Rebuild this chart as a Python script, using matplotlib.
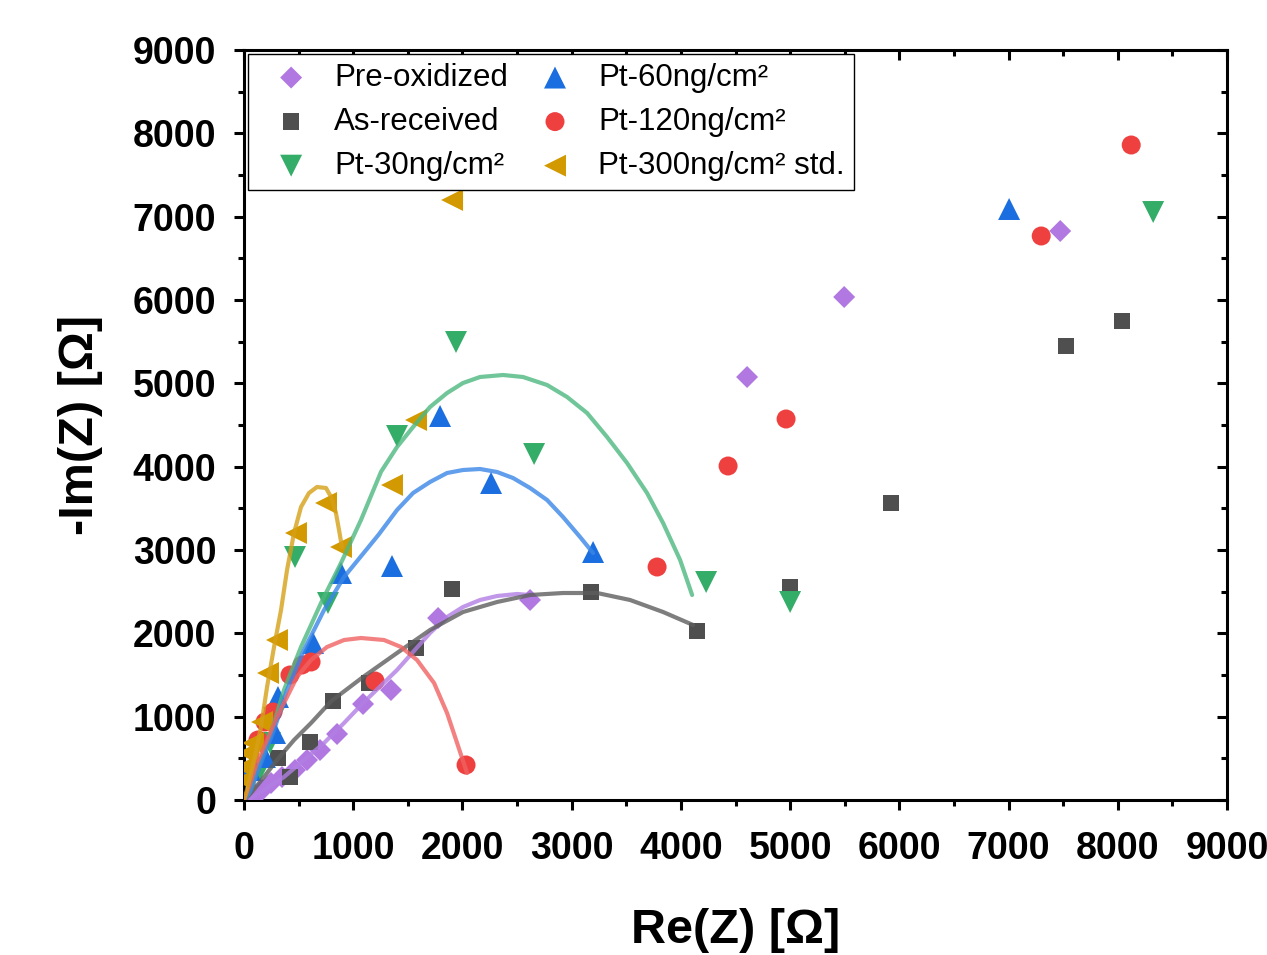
import matplotlib
matplotlib.use("Agg")
import matplotlib.pyplot as plt
from matplotlib import rc
from matplotlib.ticker import MultipleLocator, AutoMinorLocator

rc('font', **{'family': 'sans-serif', 'sans-serif': ['Liberation Sans', 'DejaVu Sans']})
rc('mathtext', **{'default': 'regular'})

# -- measured points (Re(Z), -Im(Z)) in ohm --
pre_x = [7473, 5495, 4606, 2619, 1777, 1346, 1090, 852, 696, 577, 467, 348, 247, 165, 100]
pre_y = [6828, 6036, 5076, 2400, 2184, 1320, 1152, 792, 600, 480, 360, 276, 204, 120, 60]

asr_x = [8040, 7527, 5925, 5000, 4148, 3178, 1905, 1575, 1145, 815, 604, 421, 311]
asr_y = [5748, 5448, 3564, 2556, 2028, 2496, 2532, 1824, 1404, 1188, 696, 276, 504]

pt30_x = [8324, 5000, 4231, 2656, 1941, 1401, 769, 467, 275, 238, 147]
pt30_y = [7056, 2376, 2616, 4152, 5496, 4368, 2364, 2916, 984, 684, 360]

pt60_x = [7005, 3196, 2262, 1795, 1355, 888, 632, 311, 284, 192, 55]
pt60_y = [7092, 2976, 3804, 4608, 2808, 2724, 1884, 1236, 804, 516, 360]

pt120_x = [8123, 7299, 4963, 4432, 3782, 2033, 1200, 614, 531, 421, 266, 192, 128]
pt120_y = [7860, 6768, 4572, 4008, 2796, 420, 1428, 1656, 1620, 1500, 1056, 936, 720]

pt300_x = [1905, 1575, 1355, 888, 751, 476, 302, 220, 165, 82, 37, 9, 5]
pt300_y = [7200, 4560, 3780, 3036, 3564, 3204, 1920, 1524, 936, 684, 564, 396, 240]

# -- fitted curves --
fit_pre_x = [0, 64, 183, 366, 549, 733, 916, 1090, 1401, 1703, 1859, 2005, 2161, 2317, 2500, 2619]
fit_pre_y = [0, 24, 120, 276, 480, 684, 924, 1164, 1560, 2004, 2196, 2316, 2400, 2448, 2472, 2460]

fit_asr_x = [0, 64, 183, 302, 458, 614, 800, 1090, 1401, 1703, 2005, 2317, 2619, 2921, 3233, 3535, 3837, 4112]
fit_asr_y = [0, 84, 276, 480, 720, 924, 1188, 1476, 1764, 2040, 2256, 2376, 2460, 2484, 2484, 2400, 2256, 2100]

fit_pt30_x = [0, 46, 119, 247, 366, 522, 705, 888, 1071, 1255, 1401, 1548, 1703, 1859, 2005, 2161,
              2372, 2555, 2775, 2958, 3141, 3324, 3507, 3690, 3837, 3993, 4103]
fit_pt30_y = [0, 84, 360, 804, 1320, 1836, 2364, 2844, 3360, 3940, 4236, 4476, 4716, 4884, 5004, 5076,
              5100, 5076, 4980, 4836, 4644, 4356, 4044, 3684, 3324, 2880, 2460]

fit_pt60_x = [0, 64, 156, 275, 394, 549, 733, 916, 1230, 1401, 1548, 1703, 1859, 2005, 2161, 2317,
              2463, 2619, 2775, 2921, 3077, 3196]
fit_pt60_y = [0, 120, 444, 840, 1320, 1800, 2280, 2676, 3180, 3480, 3684, 3816, 3924, 3960, 3972, 3936,
              3864, 3744, 3600, 3396, 3156, 2964]

fit_pt120_x = [0, 46, 119, 211, 302, 394, 485, 614, 760, 916, 1071, 1282, 1438, 1584, 1740, 1859, 1951, 2042]
fit_pt120_y = [0, 156, 444, 720, 996, 1236, 1476, 1680, 1836, 1920, 1944, 1920, 1836, 1680, 1404, 1044, 684, 324]

fit_pt300_x = [0, 27, 92, 156, 211, 275, 339, 394, 458, 522, 595, 668, 751, 797, 842, 870, 897]
fit_pt300_y = [0, 120, 480, 876, 1356, 1836, 2280, 2760, 3204, 3516, 3684, 3756, 3744, 3636, 3444, 3240, 3036]

series = [
    ('Pre-oxidized', pre_x, pre_y, fit_pre_x, fit_pre_y, 'D', 125, '#B078E0', '#B27FE4'),
    ('As-received', asr_x, asr_y, fit_asr_x, fit_asr_y, 's', 138, '#4F4F4F', '#5E5E5E'),
    ('Pt-30ng/cm²', pt30_x, pt30_y, fit_pt30_x, fit_pt30_y, 'v', 250, '#34AD68', '#4DB880'),
    ('Pt-60ng/cm²', pt60_x, pt60_y, fit_pt60_x, fit_pt60_y, '^', 250, '#1A6EE0', '#3A86E6'),
    ('Pt-120ng/cm²', pt120_x, pt120_y, fit_pt120_x, fit_pt120_y, 'o', 187, '#EF4040', '#F06262'),
    ('Pt-300ng/cm² std.', pt300_x, pt300_y, fit_pt300_x, fit_pt300_y, '<', 250, '#D29A00', '#D6A018'),
]

fig = plt.figure(figsize=(12.67, 9.55), dpi=100)
ax = fig.add_axes([244/1267, 1-800/955, (1227-244)/1267, (800-50)/955])

for label, x, y, fx, fy, mk, s, c, lc in series:
    ax.scatter(x, y, marker=mk, s=s, color=c, edgecolors='none', label=label, zorder=3)
for label, x, y, fx, fy, mk, s, c, lc in series:
    ax.plot(fx, fy, color=lc, lw=3, alpha=0.8, zorder=4,
            solid_capstyle='round', solid_joinstyle='round')

ax.set_xlim(0, 9000)
ax.set_ylim(0, 9000)
ax.xaxis.set_major_locator(MultipleLocator(1000))
ax.yaxis.set_major_locator(MultipleLocator(1000))
ax.xaxis.set_minor_locator(AutoMinorLocator(2))
ax.yaxis.set_minor_locator(AutoMinorLocator(2))

for sp in ax.spines.values():
    sp.set_linewidth(2.2)
ax.tick_params(which='major', direction='out', length=7, width=2.2, labelsize=27)
ax.tick_params(which='minor', direction='out', length=4, width=2.2)
ax.tick_params(axis='x', pad=15)
ax.tick_params(axis='y', pad=13)
for t in ax.get_xticklabels() + ax.get_yticklabels():
    t.set_fontweight('bold')

# mirrored inward ticks on top and right
top = ax.secondary_xaxis('top')
right = ax.secondary_yaxis('right')
top.xaxis.set_major_locator(MultipleLocator(1000))
top.xaxis.set_minor_locator(AutoMinorLocator(2))
right.yaxis.set_major_locator(MultipleLocator(1000))
right.yaxis.set_minor_locator(AutoMinorLocator(2))
for sec in (top, right):
    sec.tick_params(which='major', direction='in', length=7, width=2.2)
    sec.tick_params(which='minor', direction='in', length=4, width=2.2)
top.tick_params(labeltop=False)
right.tick_params(labelright=False)

ax.set_xlabel('Re(Z) [Ω]', fontsize=35, fontweight='bold', labelpad=30)
ax.set_ylabel('-Im(Z) [Ω]', fontsize=35, fontweight='bold', labelpad=21)

leg = ax.legend(ncol=2, loc='upper left', bbox_to_anchor=(4/983, 1-4/750), borderaxespad=0,
                fontsize=22.5, frameon=True, fancybox=False, edgecolor='black', framealpha=1,
                borderpad=0.28, labelspacing=0.45, handletextpad=0.28, columnspacing=0.4,
                handlelength=2.2)
leg.get_frame().set_linewidth(1.0)

fig.savefig('out.png', dpi=100)
